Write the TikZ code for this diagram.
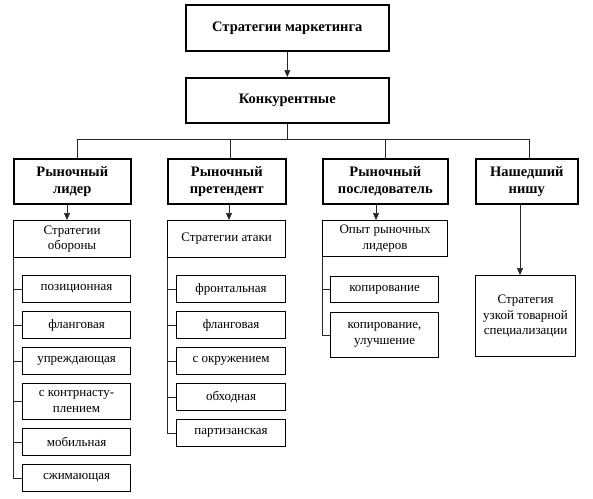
\documentclass[tikz,border=0pt]{standalone}
\usepackage{fontspec}
\setmainfont{Liberation Serif}
\usetikzlibrary{arrows.meta}
\begin{document}
\begin{tikzpicture}[x=1pt,y=-1pt,
  bigbox/.style={draw, line width=1.6pt, inner sep=0pt, anchor=north west, align=center,
     font=\fontsize{14.5}{17}\selectfont\bfseries},
  smallbox/.style={draw, line width=1.1pt, inner sep=0pt, anchor=north west, align=center,
     font=\fontsize{13}{15.5}\selectfont},
  conn/.style={line width=0.6pt, black!85},
  arr/.style={conn, -{Triangle[length=7pt,width=6pt]}}]
\useasboundingbox (0,0) rectangle (593,498);
% top
\node[bigbox, minimum width=203pt, minimum height=46pt] (top) at (185,4) {Стратегии маркетинга};
\node[bigbox, minimum width=203pt, minimum height=45pt] (konk) at (185,77) {Конкурентные};
% level 2
\node[bigbox, minimum width=117pt, minimum height=45pt] (L1) at (13,158) {Рыночный\\лидер};
\node[bigbox, minimum width=118pt, minimum height=45pt] (L2) at (167,158) {Рыночный\\претендент};
\node[bigbox, minimum width=125pt, minimum height=45pt] (L3) at (322,158) {Рыночный\\последователь};
\node[bigbox, minimum width=102pt, minimum height=45pt] (L4) at (475,158) {Нашедший\\нишу};
% level 3
\node[smallbox, minimum width=117pt, minimum height=37pt] (D1) at (13,220) {Стратегии\\обороны};
\node[smallbox, minimum width=118pt, minimum height=37pt] (D2) at (167,220) {Стратегии атаки};
\node[smallbox, minimum width=125pt, minimum height=36pt] (D3) at (322,220) {Опыт рыночных\\лидеров};
\node[smallbox, minimum width=100pt, minimum height=81pt] (D4) at (475,275) {Стратегия\\узкой товарной\\специализации};
% column 1
\node[smallbox, minimum width=108pt, minimum height=27pt] (a1) at (22,275) {позиционная};
\node[smallbox, minimum width=108pt, minimum height=27pt] (a2) at (22,311) {фланговая};
\node[smallbox, minimum width=108pt, minimum height=27pt] (a3) at (22,347) {упреждающая};
\node[smallbox, minimum width=108pt, minimum height=36pt] (a4) at (22,383) {с контрнасту-\\плением};
\node[smallbox, minimum width=108pt, minimum height=27pt] (a5) at (22,428) {мобильная};
\node[smallbox, minimum width=108pt, minimum height=27pt] (a6) at (22,464) {сжимающая};
% column 2
\node[smallbox, minimum width=109pt, minimum height=27pt] (b1) at (176,275) {фронтальная};
\node[smallbox, minimum width=109pt, minimum height=27pt] (b2) at (176,311) {фланговая};
\node[smallbox, minimum width=109pt, minimum height=27pt] (b3) at (176,347) {с окружением};
\node[smallbox, minimum width=109pt, minimum height=27pt] (b4) at (176,383) {обходная};
\node[smallbox, minimum width=109pt, minimum height=27pt] (b5) at (176,419) {партизанская};
% column 3
\node[smallbox, minimum width=108pt, minimum height=26pt] (c1) at (330,276) {копирование};
\node[smallbox, minimum width=108pt, minimum height=45pt] (c2) at (330,312) {копирование,\\улучшение};
% connectors top
\coordinate (hl) at (77,139);
\coordinate (hr) at (529,139);
\draw[arr] (top.south) -- (konk.north);
\draw[conn] (konk.south) -- (konk.south |- hl);
\draw[conn] (hl) -- (hr);
\coordinate (v1) at (77,139);
\coordinate (v2) at (230,139);
\coordinate (v3) at (385,139);
\coordinate (v4) at (529,139);
\draw[conn] (v1) -- (v1 |- L1.north);
\draw[conn] (v2) -- (v2 |- L2.north);
\draw[conn] (v3) -- (v3 |- L3.north);
\draw[conn] (v4) -- (v4 |- L4.north);
% arrows level 2 -> 3
\coordinate (w1) at (67,0);
\coordinate (w2) at (229,0);
\coordinate (w3) at (376,0);
\coordinate (w4) at (520,0);
\draw[arr] (w1 |- L1.south) -- (w1 |- D1.north);
\draw[arr] (w2 |- L2.south) -- (w2 |- D2.north);
\draw[arr] (w3 |- L3.south) -- (w3 |- D3.north);
\draw[arr] (w4 |- L4.south) -- (w4 |- D4.north);
% branches
\draw[conn] (D1.south west) |- (a6.west);
\foreach \n in {a1,a2,a3,a4,a5} \draw[conn] (D1.south west |- \n.west) -- (\n.west);
\draw[conn] (D2.south west) |- (b5.west);
\foreach \n in {b1,b2,b3,b4} \draw[conn] (D2.south west |- \n.west) -- (\n.west);
\draw[conn] (D3.south west) |- (c2.west);
\draw[conn] (D3.south west |- c1.west) -- (c1.west);
\end{tikzpicture}
\end{document}
